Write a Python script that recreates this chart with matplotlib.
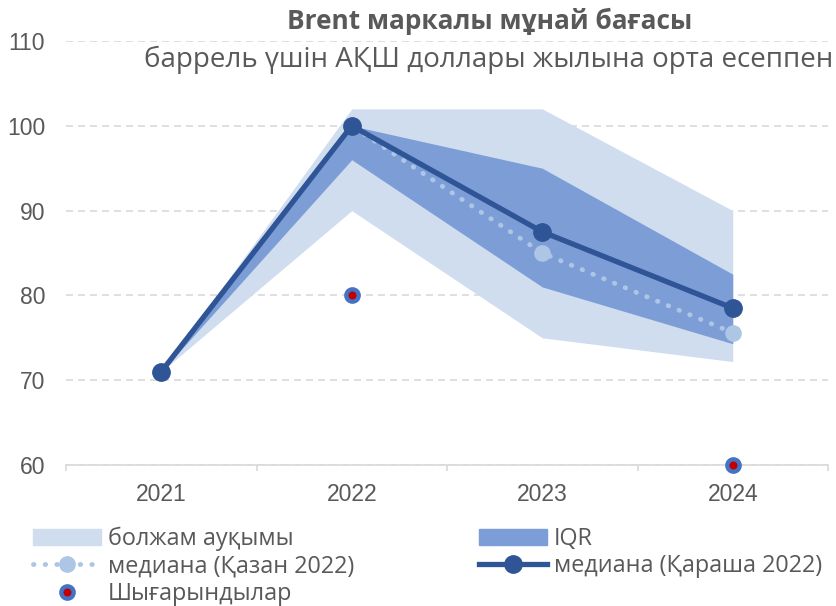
import matplotlib
matplotlib.use("Agg")
import matplotlib.pyplot as plt
from matplotlib.lines import Line2D
from matplotlib.patches import Patch

years = ["2021", "2022", "2023", "2024"]
range_low = [71, 90, 75, 72.2]
range_high = [71, 102, 102, 90]
iqr_low = [71, 96, 81, 74.3]
iqr_high = [71, 100, 95, 82.5]
median_oct = [71, 100, 85, 75.6]
median_nov = [71, 100, 87.5, 78.5]
outlier_x = [1, 3]
outlier_y = [80, 60]
yticks = [60, 70, 80, 90, 100, 110]

title = "Brent маркалы мұнай бағасы"
subtitle = "баррель үшін АҚШ доллары жылына орта есеппен"
labels = ["болжам ауқымы", "IQR", "медиана (Қазан 2022)", "медиана (Қараша 2022)", "Шығарындылар"]

C_RANGE = "#D0DDEF"
C_IQR = "#7C9DD5"
C_NOV = "#2F5597"
C_OCT = "#ADC6E5"
C_TXT = "#595959"
C_GRID = "#D9D9D9"
TXTFONT = ["Open Sans", "Noto Sans", "DejaVu Sans"]
NUMFONT = ["Liberation Sans", "DejaVu Sans"]

fig = plt.figure(figsize=(8.36, 6.06), dpi=100)
ax = fig.add_axes([66/836, 1-465/606, (828-66)/836, (465-41)/606])

x = list(range(len(years)))
ax.fill_between(x, range_low, range_high, color=C_RANGE, lw=0, zorder=1)
ax.fill_between(x, iqr_low, iqr_high, color=C_IQR, lw=0, zorder=2)
oct_style = dict(color=C_OCT, lw=3.5, ls=(0, (0.1, 2.3)), dash_capstyle="round",
                 marker="o", ms=11, mec=C_OCT, mfc=C_OCT)
nov_style = dict(color=C_NOV, lw=3.8, marker="o", ms=12.5, mfc=C_NOV, mec=C_NOV)
out_style = dict(ls="none", marker="o", ms=8.9, mfc="#C00000", mec="#4472C4", mew=3.1)
ax.plot(x, median_oct, zorder=3, **oct_style)
ax.plot(x, median_nov, zorder=4, **nov_style)
ax.plot(outlier_x, outlier_y, zorder=5, clip_on=False, **out_style)

ax.set_xlim(-0.5, 3.5)
ax.set_ylim(60, 110)
ax.set_yticks(yticks)
ax.set_xticks(x)
ax.set_xticklabels(years)
ax.set_xticks([-0.5, 0.5, 1.5, 2.5, 3.5], minor=True)
ax.grid(axis="y", color=C_GRID, ls=(0, (4.2, 3)), lw=1.2, zorder=0)
ax.set_axisbelow(True)
for s in ["left", "right", "top"]:
    ax.spines[s].set_visible(False)
ax.spines["bottom"].set_color(C_GRID)
ax.spines["bottom"].set_linewidth(1.2)
ax.tick_params(axis="x", which="major", length=0, labelsize=16.5, colors=C_TXT, pad=13)
ax.tick_params(axis="x", which="minor", length=4.5, width=1.2, color=C_GRID, direction="out")
ax.tick_params(axis="y", length=0, labelsize=16.5, colors=C_TXT, pad=15)
for t in ax.get_xticklabels() + ax.get_yticklabels():
    t.set_family(NUMFONT)

fig.text(490/836, 1-21/606, title, ha="center", va="center", fontsize=18.9, fontweight="bold",
         color=C_TXT, family=TXTFONT)
fig.text(833/836, 1-60/606, subtitle, ha="right", va="center", fontsize=20,
         color=C_TXT, family=TXTFONT)

h_range = Patch(color=C_RANGE)
h_iqr = Patch(color=C_IQR)
h_oct = Line2D([], [], **oct_style)
h_nov = Line2D([], [], **nov_style)
h_out = Line2D([], [], **out_style)
leg_kw = dict(loc="upper left", frameon=False, handlelength=2.9, handletextpad=0.3,
              labelspacing=0.14, borderpad=0, borderaxespad=0,
              prop={"family": TXTFONT, "size": 16.8})
leg1 = fig.legend([h_range, h_oct, h_out], [labels[0], labels[2], labels[4]],
                  bbox_to_anchor=(33/836, 1-527/606), **leg_kw)
leg2 = fig.legend([h_iqr, h_nov], [labels[1], labels[3]],
                  bbox_to_anchor=(479/836, 1-527/606), **leg_kw)
for leg in (leg1, leg2):
    for t in leg.get_texts():
        t.set_color(C_TXT)

fig.savefig("out.png", dpi=100)
